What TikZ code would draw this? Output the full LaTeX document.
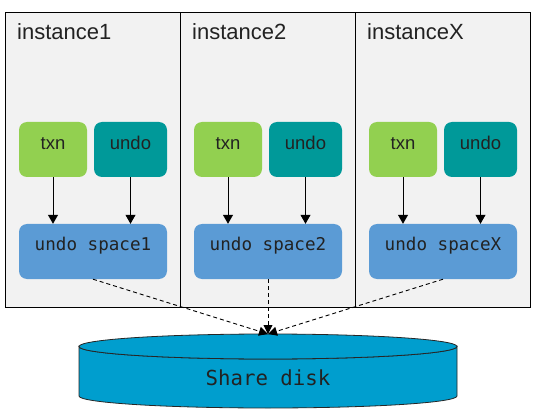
\documentclass[tikz,border=0pt]{standalone}
\usepackage{fontspec}
\setmainfont{Liberation Sans}
\setmonofont{DejaVu Sans Mono}
\usetikzlibrary{arrows.meta}
\definecolor{panelbg}{HTML}{F2F2F2}
\definecolor{txngreen}{HTML}{92D050}
\definecolor{undoteal}{HTML}{009999}
\definecolor{spaceblue}{HTML}{5B9BD5}
\definecolor{diskblue}{HTML}{009ECE}
\definecolor{txtc}{HTML}{222222}
\begin{document}
\begin{tikzpicture}[x=1pt,y=-1pt,
  panel/.style={draw=black, fill=panelbg, line width=0.9pt},
  title/.style={anchor=base west, inner sep=0pt, font=\fontsize{22}{24}\selectfont, text=txtc},
  smallbox/.style={rounded corners=8pt, inner sep=0pt, minimum width=#1, text height=28pt, text depth=27pt,
     font=\fontsize{18.5}{20}\selectfont, text=txtc},
  txnbox/.style={smallbox=68pt, fill=txngreen},
  undobox/.style={smallbox=73pt, fill=undoteal},
  spacebox/.style={rounded corners=8pt, inner sep=0pt, minimum width=148pt, text height=26.7pt, text depth=28.3pt,
     fill=spaceblue, font=\ttfamily\fontsize{17.6}{20}\selectfont, text=txtc},
  arr/.style={-{Triangle[length=9pt,width=10pt]}, line width=0.9pt, draw=black},
  darr/.style={-{Triangle[length=9pt,width=9pt]}, line width=0.9pt, draw=black, dash pattern=on 4pt off 3pt}
]
\useasboundingbox (0,0) rectangle (538,414);
\fill[white] (0,0) rectangle (538,414);

% panels
\draw[panel] (5,12.5) rectangle (180,307);
\draw[panel] (180,12.5) rectangle (355,307);
\draw[panel] (355,12.5) rectangle (530,307);

\node[title] (i1) at (17,40) {instance1};
\node[title] (i2) at (192,40) {instance2};
\node[title] (i3) at (367,40) {instanceX};

% boxes
\node[txnbox] (t1) at (53,149.5) {txn};
\node[undobox] (u1) at (130.5,149.5) {undo};
\node[spacebox] (s1) at (93,251.5) {undo space1};

\node[txnbox] (t2) at (228,149.5) {txn};
\node[undobox] (u2) at (305.5,149.5) {undo};
\node[spacebox] (s2) at (268,251.5) {undo space2};

\node[txnbox] (t3) at (403,149.5) {txn};
\node[undobox] (u3) at (480.5,149.5) {undo};
\node[spacebox] (s3) at (443,251.5) {undo spaceX};

\foreach \i in {1,2,3}{
  \draw[arr] (t\i.south) -- (t\i.south |- s\i.north);
  \draw[arr] (u\i.south) -- (u\i.south |- s\i.north);
}

% disk
\filldraw[fill=diskblue, draw=black!85, line width=0.8pt]
  (79,346.5) -- (79,396) arc[start angle=180, end angle=0, x radius=189, y radius=12]
  -- (457,346.5) arc[start angle=0, end angle=180, x radius=189, y radius=12.5] -- cycle;
\filldraw[fill=diskblue, draw=black!85, line width=0.8pt] (268,346.5) ellipse [x radius=189, y radius=12.5];
\node[anchor=base, inner sep=0pt, font=\ttfamily\fontsize{20.7}{22}\selectfont, text=txtc] (disk) at (268,385.7) {Share disk};
\coordinate (disktop) at (268,334);

\draw[darr] (s1.south) -- (disktop);
\draw[darr] (s2.south) -- (disktop);
\draw[darr] (s3.south) -- (disktop);
\end{tikzpicture}
\end{document}
